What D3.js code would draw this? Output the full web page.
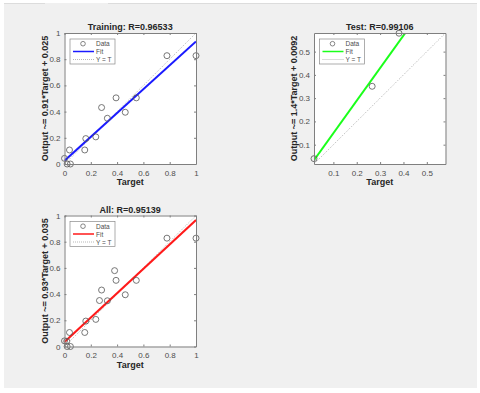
<!DOCTYPE html>
<html>
<head>
<meta charset="utf-8">
<script src="https://cdn.jsdelivr.net/npm/d3@7"></script>
<style>
  body { margin: 0; background: #ffffff; }
  svg text { font-family: "Liberation Sans", Arial, sans-serif; }
</style>
</head>
<body>
<script>
// regression plots (training / test / all)
const width = 480, height = 393;

const trainTargets = [0.0, 0.02, 0.045, 0.038, 0.154, 0.162, 0.238, 0.282, 0.326, 0.392, 0.462, 0.546, 0.779, 1.0];
const trainOutputs = [0.043, 0.0, 0.0, 0.107, 0.107, 0.194, 0.207, 0.431, 0.349, 0.505, 0.395, 0.505, 0.827, 0.827];

const testTargets = [0.017, 0.266, 0.381];
const testOutputs = [0.04, 0.351, 0.579];

const allTargets = trainTargets.concat(testTargets);
const allOutputs = trainOutputs.concat(testOutputs);

const trainTicks = [0, 0.2, 0.4, 0.6, 0.8, 1];
const testTicks = [0.1, 0.2, 0.3, 0.4, 0.5];

const panels = [
  {title: "Training: R=0.96533", ylabel: "Output ~= 0.91*Target + 0.025", color: "#1a1aff",
   targets: trainTargets, outputs: trainOutputs, slope: 0.91, icept: 0.025,
   domain: [0, 1], ticks: trainTicks, fmt: d3.format("~g"), x0: 64.5, y0: 33},
  {title: "Test: R=0.99106", ylabel: "Output ~= 1.4*Target + 0.0092", color: "#1aff1a",
   targets: testTargets, outputs: testOutputs, slope: 1.4, icept: 0.0092,
   domain: [0.017, 0.58], ticks: testTicks, fmt: d3.format(".1f"), x0: 314, y0: 33},
  {title: "All: R=0.95139", ylabel: "Output ~= 0.93*Target + 0.035", color: "#ff1a1a",
   targets: allTargets, outputs: allOutputs, slope: 0.93, icept: 0.035,
   domain: [0, 1], ticks: trainTicks, fmt: d3.format("~g"), x0: 64.5, y0: 215.5}
];

const boxW = 131.5, boxH = 131;

const svg = d3.select("body").append("svg")
    .attr("width", width)
    .attr("height", height);

// figure background
svg.append("rect")
    .attr("x", 4).attr("y", 3)
    .attr("width", 473).attr("height", 385)
    .style("fill", "#f0f0f0");
svg.append("line")
    .attr("x1", 4).attr("x2", 45).attr("y1", 3.5).attr("y2", 3.5)
    .style("stroke", "#dcdcdc");
svg.append("line")
    .attr("x1", 108).attr("x2", 477).attr("y1", 3.5).attr("y2", 3.5)
    .style("stroke", "#dcdcdc");

panels.forEach(function(p) {
  const x = d3.scaleLinear().domain(p.domain).range([0, boxW]);
  const y = d3.scaleLinear().domain(p.domain).range([boxH, 0]);

  const g = svg.append("g")
      .attr("transform", "translate(" + p.x0 + "," + p.y0 + ")");

  g.append("rect")
      .attr("width", boxW).attr("height", boxH)
      .style("fill", "#ffffff");

  const clipId = "clip" + p.x0 + "_" + p.y0;
  g.append("clipPath").attr("id", clipId)
    .append("rect").attr("width", boxW).attr("height", boxH);

  const plot = g.append("g").attr("clip-path", "url(#" + clipId + ")");

  // Y = T
  plot.append("line")
      .attr("x1", x(p.domain[0])).attr("y1", y(p.domain[0]))
      .attr("x2", x(p.domain[1])).attr("y2", y(p.domain[1]))
      .style("stroke", "#9a9a9a")
      .style("stroke-width", 0.8)
      .style("stroke-dasharray", "1,1.5");

  // fit line
  const fit = d3.line()
      .x(function(d) { return x(d); })
      .y(function(d) { return y(p.slope * d + p.icept); });
  plot.append("path")
      .datum(p.domain)
      .attr("d", fit)
      .style("fill", "none")
      .style("stroke", p.color)
      .style("stroke-width", 2);

  // data circles (drawn unclipped like matlab)
  g.selectAll(".dot")
    .data(p.targets.map(function(t, i) { return [t, p.outputs[i]]; }))
    .enter().append("circle")
      .attr("class", "dot")
      .attr("cx", function(d) { return x(d[0]); })
      .attr("cy", function(d) { return y(d[1]); })
      .attr("r", 3)
      .style("fill", "none")
      .style("stroke", "#555555")
      .style("stroke-width", 0.8);

  // axes
  const xAxis = g.append("g")
      .attr("transform", "translate(0," + boxH + ")")
      .call(d3.axisBottom(x).tickValues(p.ticks).tickFormat(p.fmt).tickSizeInner(-2).tickSizeOuter(0).tickPadding(6));
  const yAxis = g.append("g")
      .call(d3.axisLeft(y).tickValues(p.ticks).tickFormat(p.fmt).tickSizeInner(-2).tickSizeOuter(0).tickPadding(4));
  g.append("g")
      .call(d3.axisTop(x).tickValues(p.ticks).tickFormat("").tickSizeInner(-2).tickSizeOuter(0));
  g.append("g")
      .attr("transform", "translate(" + boxW + ",0)")
      .call(d3.axisRight(y).tickValues(p.ticks).tickFormat("").tickSizeInner(-2).tickSizeOuter(0));

  g.selectAll(".domain").style("stroke", "#7f7f7f");
  g.selectAll(".tick line").style("stroke", "#7f7f7f");
  g.selectAll(".tick text")
      .style("fill", "#4d4d4d")
      .style("font-size", "8px");

  // title and labels
  g.append("text")
      .attr("x", boxW / 2).attr("y", -3)
      .attr("text-anchor", "middle")
      .style("font-size", "9px").style("font-weight", "bold").style("fill", "#262626")
      .text(p.title);
  g.append("text")
      .attr("x", boxW / 2).attr("y", boxH + 21)
      .attr("text-anchor", "middle")
      .style("font-size", "9px").style("font-weight", "bold").style("fill", "#262626")
      .text("Target");
  g.append("text")
      .attr("transform", "translate(" + (-17) + "," + (boxH / 2) + ") rotate(-90)")
      .attr("text-anchor", "middle")
      .style("font-size", "9px").style("font-weight", "bold").style("fill", "#262626")
      .text(p.ylabel);

  // legend
  const lg = g.append("g").attr("transform", "translate(5.5,6)");
  lg.append("rect")
      .attr("width", 45).attr("height", 25)
      .style("fill", "#ffffff")
      .style("stroke", "#8a8a8a")
      .style("stroke-width", 0.7);
  lg.append("circle")
      .attr("cx", 13).attr("cy", 4.7).attr("r", 2.3)
      .style("fill", "none").style("stroke", "#555555").style("stroke-width", 0.7);
  lg.append("line")
      .attr("x1", 3).attr("x2", 24).attr("y1", 12.5).attr("y2", 12.5)
      .style("stroke", p.color).style("stroke-width", 1.5);
  lg.append("line")
      .attr("x1", 3).attr("x2", 24).attr("y1", 20.5).attr("y2", 20.5)
      .style("stroke", "#9a9a9a").style("stroke-width", 0.7).style("stroke-dasharray", "1,1");
  lg.selectAll(".ltxt")
    .data(["Data", "Fit", "Y = T"])
    .enter().append("text")
      .attr("class", "ltxt")
      .attr("x", function(d, i) { return i == 0 ? 26 : 26; })
      .attr("y", function(d, i) { return 7 + i * 8; })
      .style("font-size", "6.5px")
      .style("fill", "#4d4d4d")
      .text(function(d) { return d; });
});
</script>
</body>
</html>
